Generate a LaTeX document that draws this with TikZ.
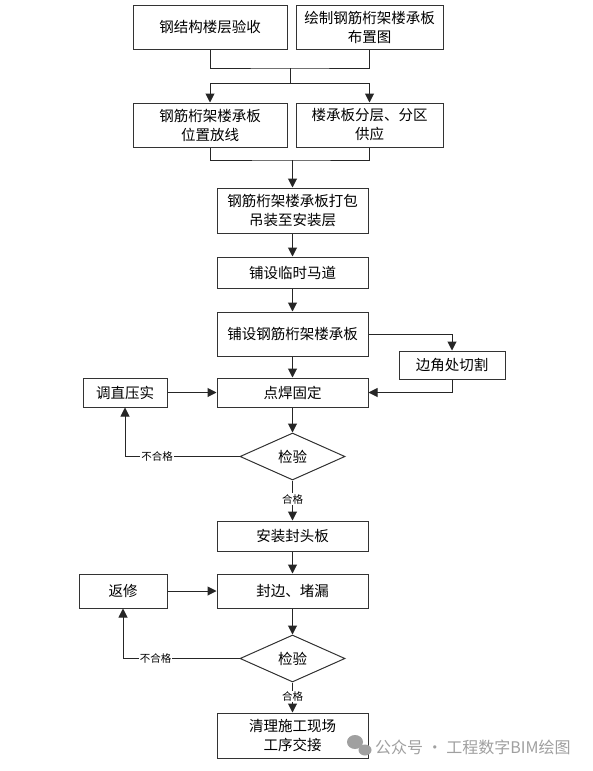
\documentclass[tikz,border=0pt]{standalone}
\usepackage{fontspec}
\newfontfamily\cjk{Noto Sans CJK SC}
\usetikzlibrary{shapes.geometric,arrows.meta}
\definecolor{wm}{RGB}{160,160,160}
\begin{document}
\begin{tikzpicture}[x=1pt,y=-1pt,
  box/.style={draw=black!80, line width=1pt, align=center, inner sep=0pt, font=\cjk\fontsize{14.5}{19}\selectfont},
  dia/.style={draw=black!80, line width=1pt, shape=diamond, inner sep=0pt, minimum width=105pt, minimum height=47pt, font=\cjk\fontsize{14.5}{19}\selectfont},
  con/.style={line width=1pt, draw=black!85},
  arr/.style={con, -{Triangle[length=9pt,width=9pt]}},
  lab/.style={fill=white, inner sep=1pt, font=\cjk\fontsize{10.5}{12}\selectfont}]
\useasboundingbox (0,0) rectangle (592,771);
\fill[white] (0,0) rectangle (592,771);
% boxes
\node[box, minimum width=154pt, minimum height=44pt] (A) at (210,27) {钢结构楼层验收};
\node[box, minimum width=147pt, minimum height=44pt] (B) at (369.5,27) {绘制钢筋桁架楼承板\\布置图};
\node[box, minimum width=154pt, minimum height=44pt] (C) at (210,125) {钢筋桁架楼承板\\位置放线};
\node[box, minimum width=147pt, minimum height=44pt] (D) at (369.5,125) {楼承板分层、分区\\供应};
\node[box, minimum width=151pt, minimum height=45pt] (E) at (292.5,210.5) {钢筋桁架楼承板打包\\吊装至安装层};
\node[box, minimum width=151pt, minimum height=31pt] (F) at (292.5,272.5) {铺设临时马道};
\node[box, minimum width=151pt, minimum height=44pt] (G) at (292.5,334) {铺设钢筋桁架楼承板};
\node[box, minimum width=106pt, minimum height=28pt] (H) at (452,365) {边角处切割};
\node[box, minimum width=151pt, minimum height=29pt] (I) at (292.5,392.5) {点焊固定};
\node[box, minimum width=84pt, minimum height=29pt] (J) at (125,392.5) {调直压实};
\node[dia] (K) at (292.5,456.5) {检验};
\node[box, minimum width=151pt, minimum height=30pt] (L) at (292.5,536) {安装封头板};
\node[box, minimum width=151pt, minimum height=34pt] (M) at (292.5,591) {封边、堵漏};
\node[box, minimum width=88pt, minimum height=34pt] (N) at (123,591) {返修};
\node[dia] (O) at (292.5,658.5) {检验};
\node[box, minimum width=151pt, minimum height=45pt] (P) at (292.5,735.5) {清理施工现场\\工序交接};
% junctions
\coordinate (j1) at (290,68);
\coordinate (j2) at (290,83);
\coordinate (j3) at (292.5,160);
% connectors
\draw[con] (A.south) |- (j1) -| (B.south);
\draw[con] (j1) -- (j2);
\draw[arr] (j2) -| (C.north);
\draw[arr] (j2) -| (D.north);
\draw[con] (C.south) |- (j3) -| (D.south);
\draw[arr] (j3) -- (E.north);
\draw[arr] (E) -- (F);
\draw[arr] (F) -- (G);
\draw[arr] (G.east) -| (H.north);
\draw[arr] (H.south) |- (I.east);
\draw[arr] (G) -- (I);
\draw[arr] (J) -- (I);
\draw[arr] (I) -- (K);
\draw[arr] (K.west) -| node[lab, pos=0.36] {不合格} (J.south);
\draw[arr] (K.south) -- node[lab, pos=0.47] {合格} (L.north);
\draw[arr] (L) -- (M);
\draw[arr] (N) -- (M);
\draw[arr] (M) -- (O);
\draw[arr] (O.west) -| node[lab, pos=0.36] {不合格} (N.south);
\draw[arr] (O.south) -- node[lab, pos=0.47] {合格} (P.north);
% watermark
\fill[wm] (355,742) ellipse (8pt and 7pt);
\fill[wm] (365,750) ellipse (6.5pt and 5.5pt);
\node[anchor=west, text=wm, inner sep=0pt, font=\cjk\fontsize{16}{18}\selectfont] (wmt) at (375,747) {公众号 · 工程数字BIM绘图};
\end{tikzpicture}
\end{document}
